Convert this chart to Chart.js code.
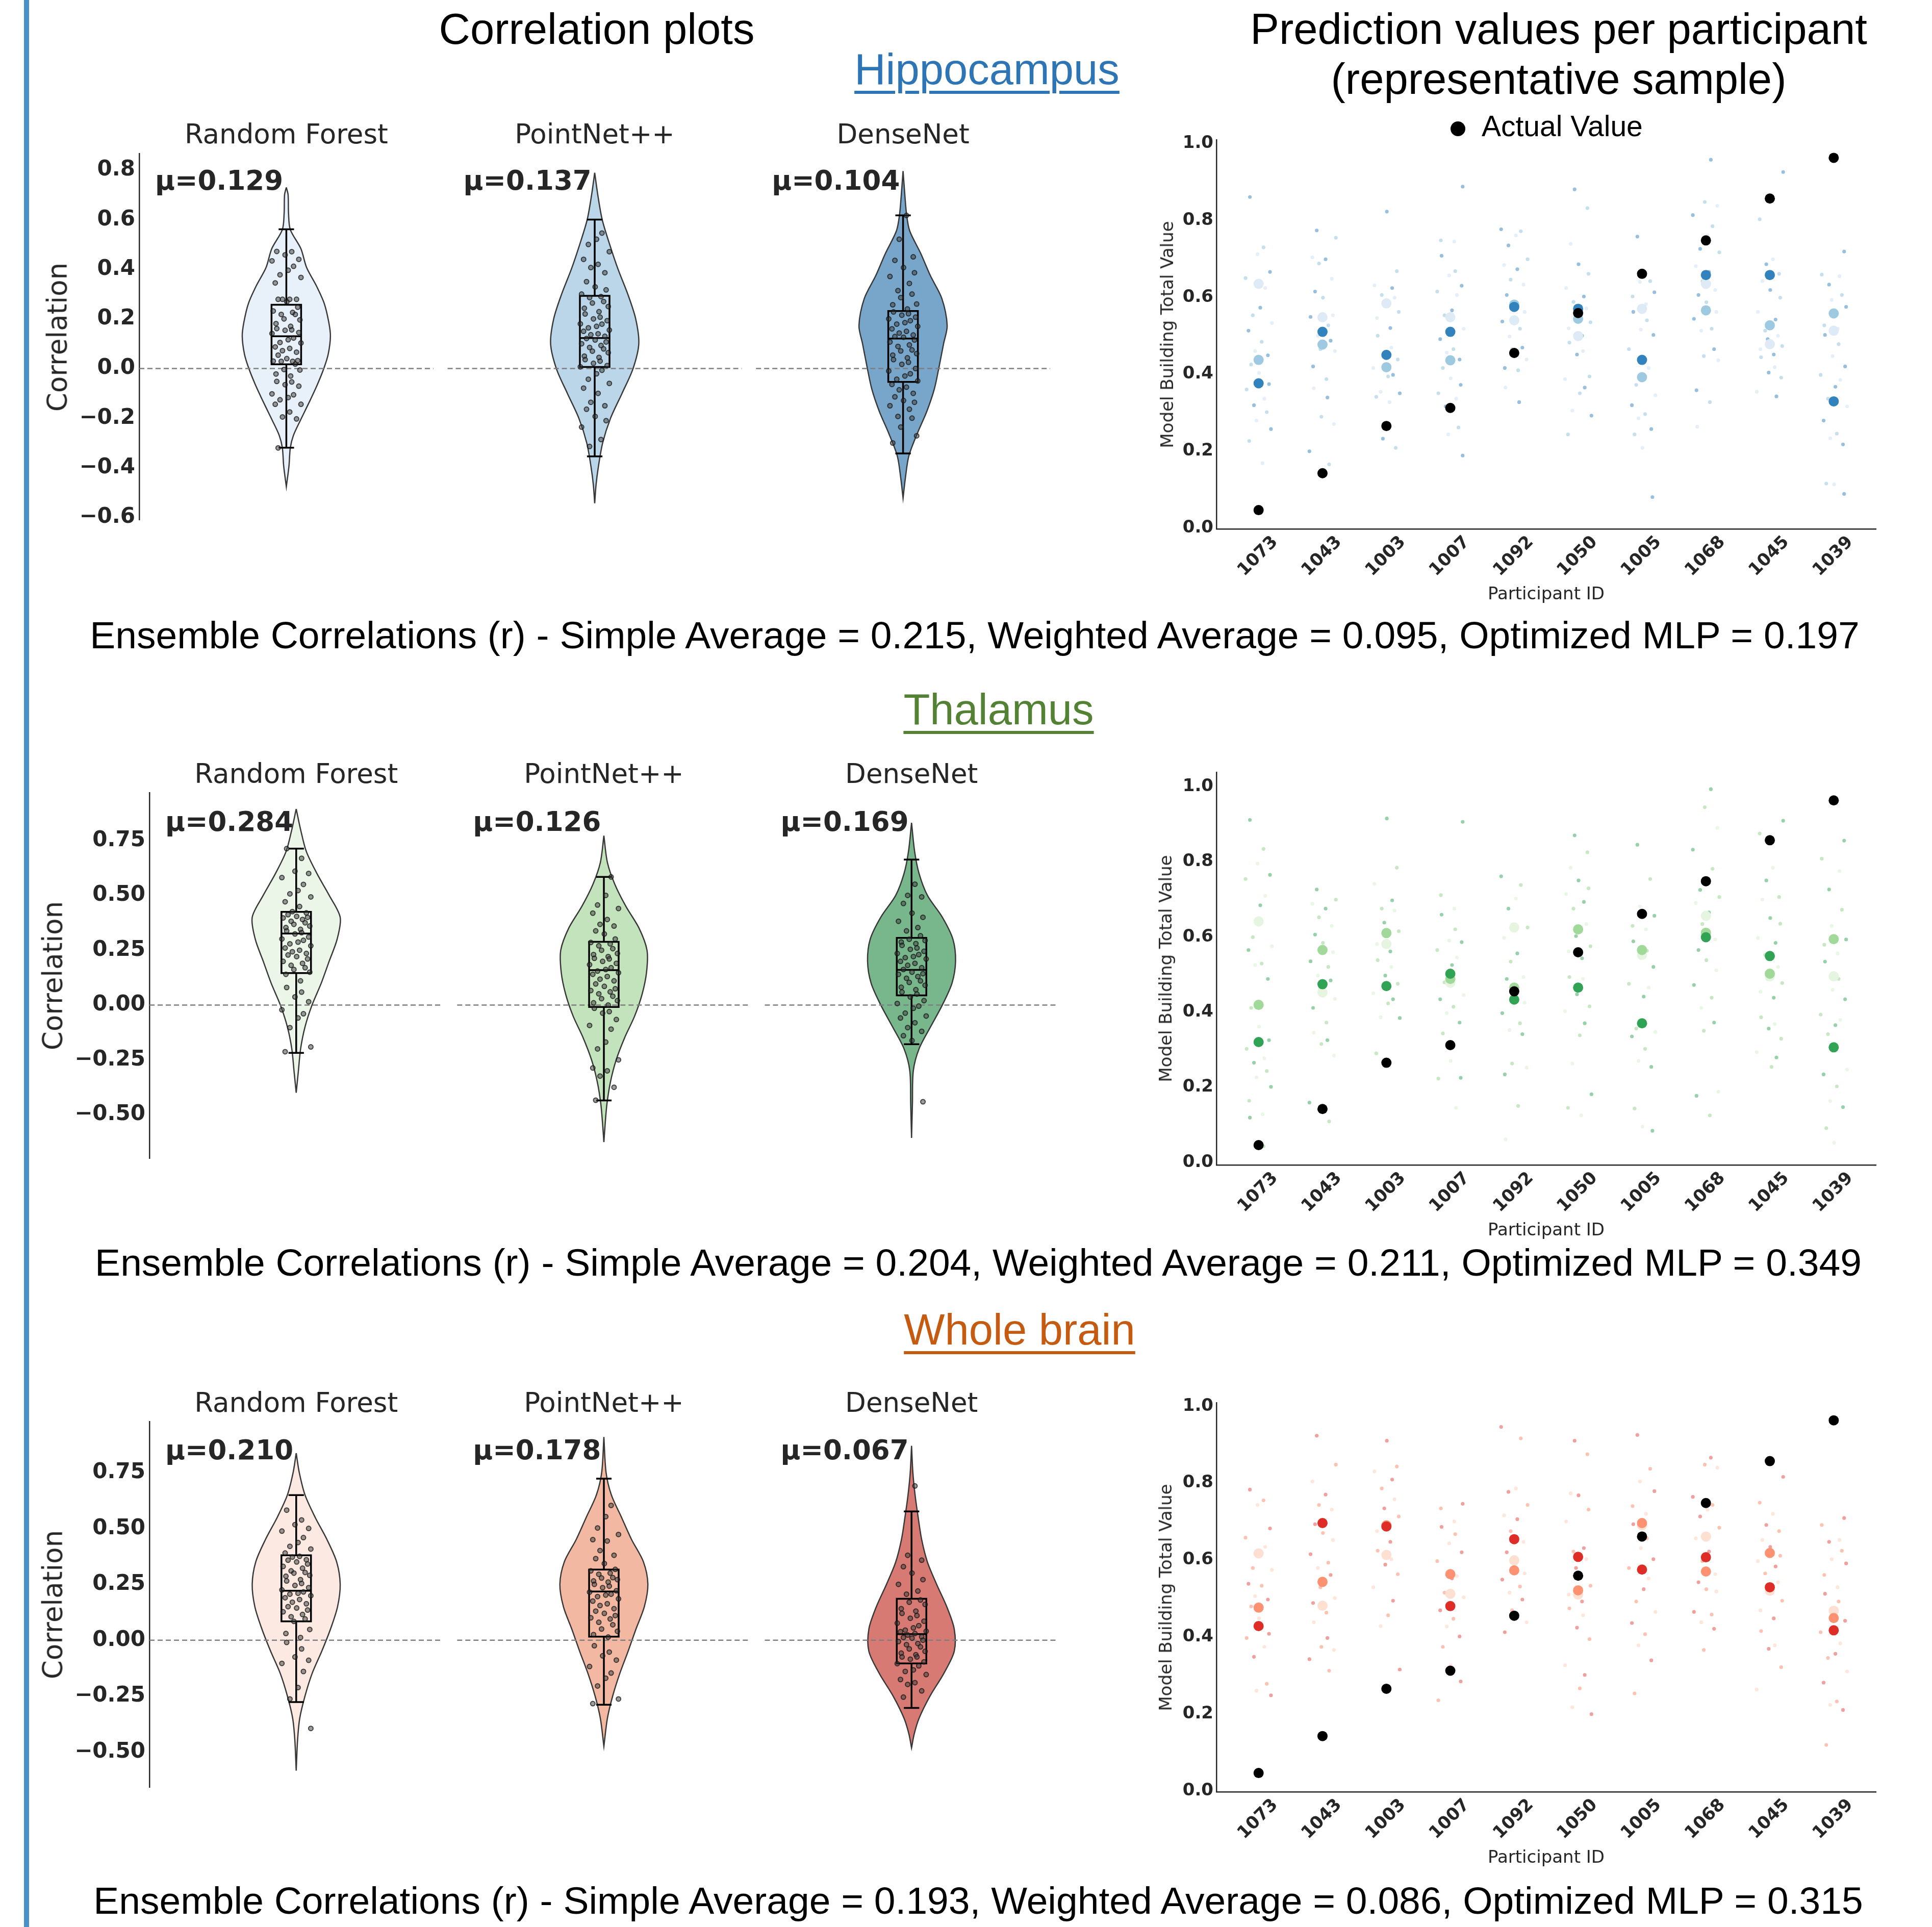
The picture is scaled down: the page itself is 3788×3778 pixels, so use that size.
<!DOCTYPE html>
<html>
<head>
<meta charset="utf-8">
<script src="https://cdn.jsdelivr.net/npm/chart.js@4.4.1/dist/chart.umd.min.js"></script>
<style>
  body { margin: 0; width: 3788px; height: 3778px; background: #fff; position: relative; overflow: hidden; }
  canvas { position: absolute; }
  .t { position: absolute; white-space: nowrap; line-height: 1; }
  #bar { position: absolute; left: 47px; top: 0; width: 10px; height: 3778px; background: #4a90c9; }
</style>
</head>
<body>
<div id="bar"></div>
<script>
// ---------- data ----------
const models = ['Random Forest', 'PointNet++', 'DenseNet'];
const participants = ['1073', '1043', '1003', '1007', '1092', '1050', '1005', '1068', '1045', '1039'];
const actualValue = [0.046, 0.142, 0.265, 0.312, 0.455, 0.559, 0.661, 0.748, 0.857, 0.963];

// mean correlation per model
const hipMeans = [0.129, 0.137, 0.104];
const thalMeans = [0.284, 0.126, 0.169];
const wbMeans = [0.210, 0.178, 0.067];

// box plot stats: [low whisker, q1, median, q3, high whisker]
const hipBoxes = [[-0.319, 0.017, 0.130, 0.257, 0.561], [-0.354, 0.006, 0.123, 0.293, 0.600], [-0.342, -0.054, 0.121, 0.232, 0.617]];
const thalBoxes = [[-0.218, 0.146, 0.326, 0.425, 0.713], [-0.435, -0.009, 0.159, 0.288, 0.584], [-0.179, 0.044, 0.160, 0.306, 0.663]];
const wbBoxes = [[-0.277, 0.084, 0.221, 0.380, 0.649], [-0.289, 0.016, 0.218, 0.316, 0.723], [-0.303, -0.104, 0.027, 0.185, 0.576]];

// violin density profiles: [correlation, relative density]
const hipViolinRF = [[0.73, 0], [0.70, 0.04], [0.625, 0.05], [0.56, 0.09], [0.483, 0.33], [0.407, 0.46], [0.334, 0.68], [0.262, 0.86], [0.189, 0.96], [0.131, 1.0], [0.058, 0.95], [0.0, 0.85], [-0.066, 0.7], [-0.139, 0.51], [-0.212, 0.31], [-0.27, 0.16], [-0.32, 0.09], [-0.393, 0.06], [-0.476, 0]];
const hipViolinPN = [[0.789, 0], [0.70, 0.07], [0.60, 0.17], [0.50, 0.34], [0.40, 0.53], [0.30, 0.75], [0.20, 0.93], [0.10, 1.0], [0.0, 0.87], [-0.10, 0.62], [-0.20, 0.36], [-0.30, 0.18], [-0.40, 0.08], [-0.47, 0.03], [-0.543, 0]];
const hipViolinDN = [[0.796, 0], [0.70, 0.04], [0.62, 0.08], [0.555, 0.15], [0.464, 0.40], [0.374, 0.62], [0.282, 0.88], [0.173, 1.0], [0.101, 0.92], [0.01, 0.82], [-0.082, 0.71], [-0.172, 0.54], [-0.263, 0.32], [-0.353, 0.13], [-0.445, 0.05], [-0.522, 0]];
const thalViolinRF = [[0.894, 0], [0.80, 0.10], [0.70, 0.23], [0.60, 0.47], [0.50, 0.75], [0.40, 1.0], [0.30, 0.93], [0.20, 0.75], [0.10, 0.57], [0.0, 0.36], [-0.10, 0.2], [-0.20, 0.1], [-0.30, 0.05], [-0.40, 0]];
const thalViolinPN = [[0.772, 0], [0.65, 0.08], [0.55, 0.25], [0.45, 0.5], [0.35, 0.8], [0.25, 0.98], [0.15, 0.97], [0.05, 0.87], [-0.05, 0.7], [-0.15, 0.47], [-0.25, 0.28], [-0.35, 0.15], [-0.45, 0.07], [-0.54, 0.03], [-0.625, 0]];
const thalViolinDN = [[0.831, 0], [0.70, 0.07], [0.60, 0.17], [0.50, 0.36], [0.40, 0.7], [0.30, 0.94], [0.20, 1.0], [0.10, 0.92], [0.0, 0.7], [-0.10, 0.43], [-0.20, 0.17], [-0.30, 0.04], [-0.45, 0.02], [-0.606, 0]];
const wbViolinRF = [[0.837, 0], [0.75, 0.07], [0.65, 0.2], [0.55, 0.43], [0.45, 0.7], [0.35, 0.92], [0.25, 1.0], [0.15, 0.94], [0.05, 0.78], [-0.05, 0.58], [-0.15, 0.36], [-0.25, 0.2], [-0.35, 0.08], [-0.45, 0.03], [-0.584, 0]];
const wbViolinPN = [[0.909, 0], [0.75, 0.05], [0.65, 0.17], [0.55, 0.4], [0.45, 0.63], [0.35, 0.9], [0.25, 1.0], [0.15, 0.92], [0.05, 0.73], [-0.05, 0.55], [-0.15, 0.36], [-0.25, 0.2], [-0.35, 0.08], [-0.475, 0]];
const wbViolinDN = [[0.870, 0], [0.75, 0.03], [0.65, 0.08], [0.55, 0.15], [0.45, 0.23], [0.35, 0.36], [0.25, 0.57], [0.15, 0.8], [0.05, 0.97], [-0.05, 0.97], [-0.15, 0.73], [-0.25, 0.42], [-0.35, 0.17], [-0.42, 0.06], [-0.482, 0]];

// per-participant correlations (strip points)
const hipPointsRF = [0.472, 0.471, 0.458, 0.440, 0.434, 0.412, 0.396, 0.378, 0.367, 0.345, 0.279, 0.279, 0.279, 0.279, 0.269, 0.247, 0.232, 0.226, 0.218, 0.218, 0.2, 0.196, 0.181, 0.170, 0.161, 0.156, 0.154, 0.145, 0.141, 0.123, 0.116, 0.105, 0.103, 0.087, 0.081, 0.072, 0.066, 0.054, 0.040, 0.032, 0.030, 0.029, 0.029, 0.018, -0.004, -0.006, -0.022, -0.03, -0.052, -0.054, -0.065, -0.071, -0.102, -0.106, -0.117, -0.126, -0.144, -0.144, -0.175, -0.195, -0.203, -0.32];
const hipPointsPN = [0.546, 0.521, 0.5, 0.471, 0.44, 0.42, 0.407, 0.386, 0.35, 0.329, 0.317, 0.3, 0.29, 0.286, 0.27, 0.264, 0.25, 0.243, 0.229, 0.22, 0.207, 0.2, 0.193, 0.18, 0.179, 0.17, 0.164, 0.155, 0.15, 0.14, 0.136, 0.13, 0.121, 0.115, 0.107, 0.1, 0.093, 0.085, 0.079, 0.07, 0.064, 0.05, 0.045, 0.036, 0.03, 0.021, 0.012, 0.007, -0.007, -0.021, -0.043, -0.06, -0.079, -0.1, -0.136, -0.15, -0.164, -0.193, -0.21, -0.236, -0.286, -0.314];
const hipPointsDN = [0.617, 0.521, 0.45, 0.436, 0.407, 0.386, 0.371, 0.343, 0.314, 0.3, 0.286, 0.26, 0.257, 0.24, 0.228, 0.221, 0.215, 0.207, 0.2, 0.193, 0.185, 0.179, 0.17, 0.16, 0.15, 0.143, 0.135, 0.129, 0.126, 0.115, 0.107, 0.095, 0.089, 0.075, 0.071, 0.06, 0.054, 0.043, 0.036, 0.025, 0.017, 0.0, -0.01, -0.021, -0.03, -0.043, -0.05, -0.064, -0.075, -0.086, -0.1, -0.114, -0.129, -0.136, -0.15, -0.164, -0.193, -0.2, -0.236, -0.271, -0.3];
const thalPointsRF = [0.713, 0.669, 0.61, 0.6, 0.581, 0.55, 0.522, 0.507, 0.493, 0.471, 0.449, 0.426, 0.42, 0.412, 0.404, 0.4, 0.397, 0.39, 0.382, 0.375, 0.368, 0.36, 0.353, 0.345, 0.338, 0.33, 0.324, 0.31, 0.301, 0.295, 0.287, 0.279, 0.27, 0.26, 0.25, 0.243, 0.235, 0.228, 0.221, 0.21, 0.199, 0.19, 0.181, 0.17, 0.162, 0.15, 0.14, 0.11, 0.08, 0.059, 0.037, 0.015, -0.022, -0.04, -0.059, -0.103, -0.191, -0.213];
const thalPointsPN = [0.584, 0.5, 0.456, 0.44, 0.419, 0.39, 0.368, 0.36, 0.338, 0.324, 0.301, 0.285, 0.279, 0.27, 0.257, 0.25, 0.235, 0.23, 0.221, 0.213, 0.21, 0.199, 0.19, 0.184, 0.17, 0.162, 0.155, 0.147, 0.14, 0.13, 0.118, 0.11, 0.096, 0.085, 0.074, 0.066, 0.06, 0.051, 0.04, 0.029, 0.02, 0.01, 0.0, -0.015, -0.03, -0.037, -0.066, -0.093, -0.11, -0.169, -0.2, -0.25, -0.287, -0.3, -0.324, -0.375, -0.434];
const thalPointsDN = [0.551, 0.5, 0.493, 0.463, 0.419, 0.4, 0.382, 0.353, 0.338, 0.316, 0.3, 0.294, 0.287, 0.28, 0.272, 0.26, 0.254, 0.245, 0.235, 0.23, 0.221, 0.216, 0.21, 0.199, 0.19, 0.181, 0.17, 0.162, 0.15, 0.143, 0.14, 0.13, 0.122, 0.11, 0.103, 0.09, 0.081, 0.07, 0.059, 0.05, 0.037, 0.02, 0.007, -0.005, -0.015, -0.037, -0.05, -0.059, -0.081, -0.103, -0.12, -0.14, -0.162, -0.441];
const wbPointsRF = [0.582, 0.538, 0.517, 0.5, 0.488, 0.459, 0.437, 0.42, 0.408, 0.39, 0.375, 0.372, 0.36, 0.358, 0.35, 0.341, 0.33, 0.322, 0.31, 0.303, 0.3, 0.29, 0.286, 0.271, 0.265, 0.254, 0.245, 0.235, 0.225, 0.216, 0.21, 0.206, 0.199, 0.19, 0.182, 0.17, 0.163, 0.15, 0.144, 0.135, 0.127, 0.115, 0.105, 0.095, 0.084, 0.048, 0.03, 0.012, -0.01, -0.039, -0.075, -0.09, -0.104, -0.14, -0.212, -0.263, -0.395];
const wbPointsPN = [0.603, 0.553, 0.502, 0.473, 0.45, 0.444, 0.401, 0.38, 0.365, 0.343, 0.317, 0.31, 0.3, 0.295, 0.28, 0.278, 0.271, 0.265, 0.26, 0.25, 0.242, 0.235, 0.221, 0.215, 0.206, 0.202, 0.195, 0.185, 0.175, 0.163, 0.155, 0.141, 0.13, 0.12, 0.11, 0.1, 0.095, 0.08, 0.069, 0.05, 0.04, 0.025, 0.014, -0.025, -0.053, -0.07, -0.089, -0.118, -0.147, -0.17, -0.205, -0.263, -0.284];
const wbPointsDN = [0.69, 0.38, 0.358, 0.329, 0.3, 0.271, 0.25, 0.22, 0.206, 0.18, 0.17, 0.16, 0.141, 0.13, 0.12, 0.11, 0.098, 0.085, 0.076, 0.065, 0.055, 0.045, 0.04, 0.038, 0.03, 0.023, 0.015, 0.012, 0.009, 0.0, -0.006, -0.015, -0.02, -0.03, -0.039, -0.05, -0.058, -0.065, -0.075, -0.075, -0.085, -0.097, -0.105, -0.115, -0.133, -0.14, -0.154, -0.176, -0.19, -0.198, -0.227, -0.255];

// mean predicted value per participant, per model
const hipPredRF = [0.635, 0.548, 0.584, 0.548, 0.540, 0.499, 0.570, 0.635, 0.478, 0.513];
const hipPredPN = [0.437, 0.477, 0.418, 0.436, 0.581, 0.544, 0.392, 0.566, 0.527, 0.558];
const hipPredDN = [0.376, 0.510, 0.450, 0.510, 0.575, 0.570, 0.437, 0.658, 0.658, 0.329];
const thalPredRF = [0.641, 0.452, 0.581, 0.478, 0.625, 0.620, 0.552, 0.656, 0.495, 0.495];
const thalPredPN = [0.419, 0.565, 0.610, 0.488, 0.465, 0.620, 0.565, 0.611, 0.502, 0.594];
const thalPredDN = [0.320, 0.474, 0.469, 0.502, 0.433, 0.465, 0.370, 0.599, 0.549, 0.306];
const wbPredRF = [0.617, 0.481, 0.613, 0.512, 0.599, 0.510, 0.690, 0.661, 0.520, 0.468];
const wbPredPN = [0.476, 0.543, 0.690, 0.563, 0.573, 0.521, 0.696, 0.570, 0.618, 0.449];
const wbPredDN = [0.428, 0.696, 0.687, 0.480, 0.654, 0.608, 0.575, 0.607, 0.529, 0.417];

// individual predictions per participant (small dots)
const hipSingle = [
  [0.861, 0.730, 0.712, 0.666, 0.650, 0.624, 0.573, 0.553, 0.533, 0.513, 0.484, 0.460, 0.449, 0.425, 0.403, 0.374, 0.360, 0.336, 0.319, 0.301, 0.279, 0.257, 0.226, 0.168],
  [0.774, 0.755, 0.704, 0.699, 0.688, 0.648, 0.615, 0.599, 0.553, 0.549, 0.527, 0.500, 0.487, 0.465, 0.460, 0.420, 0.387, 0.363, 0.339, 0.289, 0.270, 0.199, 0.165],
  [0.823, 0.668, 0.631, 0.624, 0.606, 0.599, 0.584, 0.562, 0.546, 0.520, 0.500, 0.469, 0.449, 0.438, 0.416, 0.398, 0.394, 0.354, 0.350, 0.341, 0.327, 0.232, 0.208],
  [0.888, 0.748, 0.745, 0.708, 0.668, 0.657, 0.630, 0.615, 0.606, 0.566, 0.553, 0.518, 0.491, 0.465, 0.456, 0.438, 0.416, 0.389, 0.372, 0.350, 0.336, 0.316, 0.261, 0.243, 0.188],
  [0.777, 0.772, 0.761, 0.735, 0.699, 0.684, 0.673, 0.646, 0.633, 0.606, 0.588, 0.562, 0.537, 0.518, 0.498, 0.469, 0.465, 0.438, 0.416, 0.410, 0.365, 0.327],
  [0.881, 0.832, 0.739, 0.686, 0.661, 0.624, 0.602, 0.588, 0.571, 0.553, 0.535, 0.519, 0.500, 0.482, 0.460, 0.451, 0.394, 0.387, 0.365, 0.350, 0.305, 0.292, 0.243],
  [0.758, 0.642, 0.640, 0.613, 0.602, 0.582, 0.562, 0.540, 0.516, 0.502, 0.465, 0.416, 0.389, 0.372, 0.345, 0.319, 0.296, 0.285, 0.257, 0.243, 0.208, 0.080],
  [0.958, 0.848, 0.838, 0.814, 0.785, 0.761, 0.726, 0.717, 0.681, 0.666, 0.642, 0.619, 0.606, 0.587, 0.562, 0.544, 0.518, 0.513, 0.465, 0.447, 0.436, 0.358, 0.327, 0.263],
  [0.926, 0.803, 0.699, 0.686, 0.661, 0.642, 0.619, 0.599, 0.562, 0.542, 0.513, 0.500, 0.491, 0.473, 0.465, 0.451, 0.444, 0.418, 0.404, 0.391, 0.354, 0.342],
  [0.719, 0.659, 0.655, 0.633, 0.606, 0.593, 0.575, 0.527, 0.518, 0.502, 0.478, 0.447, 0.420, 0.398, 0.385, 0.367, 0.336, 0.316, 0.279, 0.245, 0.233, 0.217, 0.115, 0.113, 0.088]
];
const thalSingle = [
  [0.911, 0.834, 0.795, 0.765, 0.754, 0.709, 0.684, 0.599, 0.575, 0.565, 0.529, 0.525, 0.488, 0.411, 0.361, 0.325, 0.302, 0.277, 0.265, 0.243, 0.226, 0.201, 0.164, 0.128, 0.119, 0.043],
  [0.726, 0.699, 0.688, 0.675, 0.652, 0.629, 0.606, 0.584, 0.559, 0.535, 0.520, 0.497, 0.484, 0.461, 0.435, 0.411, 0.372, 0.345, 0.325, 0.315, 0.284, 0.159, 0.109],
  [0.915, 0.784, 0.741, 0.697, 0.675, 0.670, 0.638, 0.615, 0.581, 0.561, 0.538, 0.520, 0.497, 0.475, 0.450, 0.434, 0.423, 0.386, 0.384, 0.290],
  [0.906, 0.711, 0.675, 0.659, 0.620, 0.590, 0.586, 0.565, 0.545, 0.525, 0.479, 0.445, 0.434, 0.414, 0.397, 0.372, 0.343, 0.270, 0.225, 0.223, 0.145],
  [0.761, 0.738, 0.702, 0.675, 0.625, 0.597, 0.556, 0.534, 0.493, 0.488, 0.452, 0.425, 0.397, 0.370, 0.352, 0.341, 0.263, 0.252, 0.234, 0.150, 0.061],
  [0.870, 0.825, 0.784, 0.750, 0.729, 0.714, 0.693, 0.675, 0.634, 0.602, 0.575, 0.561, 0.543, 0.493, 0.488, 0.447, 0.415, 0.402, 0.370, 0.338, 0.263, 0.181, 0.145, 0.125],
  [0.845, 0.754, 0.681, 0.656, 0.629, 0.620, 0.588, 0.563, 0.543, 0.520, 0.475, 0.465, 0.441, 0.356, 0.347, 0.335, 0.302, 0.270, 0.254, 0.143, 0.095, 0.084],
  [0.993, 0.945, 0.890, 0.832, 0.781, 0.743, 0.725, 0.706, 0.690, 0.665, 0.634, 0.593, 0.565, 0.538, 0.511, 0.472, 0.438, 0.411, 0.372, 0.350, 0.188, 0.177, 0.125],
  [0.909, 0.875, 0.784, 0.750, 0.706, 0.699, 0.650, 0.635, 0.597, 0.584, 0.552, 0.520, 0.488, 0.477, 0.454, 0.438, 0.386, 0.368, 0.356, 0.329, 0.293, 0.279, 0.254],
  [0.856, 0.808, 0.775, 0.726, 0.672, 0.629, 0.593, 0.579, 0.556, 0.534, 0.488, 0.459, 0.434, 0.393, 0.379, 0.365, 0.341, 0.247, 0.234, 0.202, 0.163, 0.147, 0.091, 0.052]
];
const wbSingle = [
  [0.783, 0.755, 0.743, 0.682, 0.658, 0.634, 0.622, 0.579, 0.574, 0.538, 0.533, 0.506, 0.497, 0.479, 0.448, 0.408, 0.397, 0.374, 0.348, 0.278, 0.260, 0.248],
  [0.923, 0.848, 0.804, 0.770, 0.743, 0.731, 0.693, 0.670, 0.652, 0.615, 0.593, 0.579, 0.561, 0.529, 0.501, 0.488, 0.463, 0.438, 0.397, 0.374, 0.366, 0.342, 0.312],
  [0.910, 0.843, 0.830, 0.809, 0.786, 0.758, 0.734, 0.713, 0.675, 0.647, 0.624, 0.602, 0.588, 0.563, 0.529, 0.494, 0.456, 0.428, 0.315],
  [0.746, 0.734, 0.700, 0.686, 0.667, 0.643, 0.620, 0.597, 0.558, 0.552, 0.515, 0.503, 0.469, 0.447, 0.427, 0.401, 0.374, 0.326, 0.284, 0.235],
  [0.946, 0.916, 0.786, 0.777, 0.743, 0.716, 0.706, 0.675, 0.647, 0.620, 0.594, 0.565, 0.549, 0.531, 0.515, 0.497, 0.469, 0.438, 0.412],
  [0.910, 0.875, 0.773, 0.768, 0.731, 0.700, 0.631, 0.622, 0.602, 0.579, 0.533, 0.510, 0.492, 0.474, 0.456, 0.424, 0.394, 0.326, 0.301, 0.266, 0.217, 0.199],
  [0.925, 0.837, 0.804, 0.779, 0.740, 0.720, 0.693, 0.656, 0.631, 0.602, 0.579, 0.552, 0.524, 0.492, 0.465, 0.436, 0.407, 0.378, 0.339, 0.253],
  [0.866, 0.848, 0.840, 0.764, 0.743, 0.731, 0.713, 0.684, 0.656, 0.622, 0.597, 0.563, 0.542, 0.524, 0.518, 0.465, 0.458, 0.438, 0.421, 0.366],
  [0.816, 0.749, 0.720, 0.691, 0.675, 0.652, 0.634, 0.611, 0.597, 0.583, 0.565, 0.542, 0.515, 0.494, 0.469, 0.448, 0.415, 0.378, 0.369, 0.321, 0.263],
  [0.709, 0.691, 0.652, 0.647, 0.624, 0.602, 0.591, 0.561, 0.529, 0.512, 0.492, 0.474, 0.442, 0.412, 0.383, 0.356, 0.345, 0.310, 0.281, 0.232, 0.223, 0.210, 0.119]
];

// fixed horizontal spread pattern for strip / swarm dots
const jitterPattern = [-0.62, 0.35, -0.08, 0.81, -0.93, 0.47, 0.12, -0.41, 0.95, -0.72, 0.22, -0.25, 0.66, -0.53, 0.03, 0.74, -0.85, 0.41, -0.33, 0.58, -0.15, 0.88, -0.67, 0.28];

// ---------- styling ----------
const violinHalf = 0.143, panelHalf = 0.477, boxHalf = 0.048, capHalf = 0.025;
const stripJitter = 0.05, dotJitter = 0.22, labelShift = 0.26;
const plotLeft = 2385, plotRight = 3678;

Chart.defaults.font.family = 'DejaVu Sans';
Chart.defaults.color = '#262626';
Chart.defaults.animation = false;
Chart.defaults.events = [];
Chart.defaults.plugins.legend.display = false;
Chart.defaults.plugins.tooltip.enabled = false;

function makeCanvas(left, top, w, h) {
  const c = document.createElement('canvas');
  c.width = w; c.height = h;
  c.style.left = left + 'px'; c.style.top = top + 'px';
  c.style.width = w + 'px'; c.style.height = h + 'px';
  document.body.appendChild(c);
  return c;
}

function addText(txt, x, baseline, size, o = {}) {
  const d = document.createElement('div');
  d.className = 't';
  d.textContent = txt;
  d.style.fontSize = size + 'px';
  d.style.fontFamily = o.family || 'Liberation Sans';
  d.style.fontWeight = o.bold ? 'bold' : 'normal';
  d.style.color = o.color || '#000';
  d.style.left = x + 'px';
  d.style.top = (baseline - 0.846 * size) + 'px';
  if (!o.left) d.style.transform = 'translateX(-50%)';
  if (o.underline) {
    d.style.textDecoration = 'underline';
    d.style.textDecorationThickness = '6px';
    d.style.textUnderlineOffset = '13px';
  }
  document.body.appendChild(d);
  return d;
}

function addVertical(txt, cx, cy, size) {
  const d = document.createElement('div');
  d.className = 't';
  d.textContent = txt;
  d.style.fontSize = size + 'px';
  d.style.fontFamily = 'DejaVu Sans';
  d.style.color = '#262626';
  d.style.left = cx + 'px';
  d.style.top = cy + 'px';
  d.style.transform = 'translate(-50%,-50%) rotate(-90deg)';
  document.body.appendChild(d);
}

const tickFmt = dec => v => (Math.abs(v) < 1e-9 ? 0 : v).toFixed(dec).replace('-', '\u2212');

function violinRow(r) {
  const yW = 200, padV = 30, padR = 10;
  const left = r.axisX - yW, top = r.axisTop - padV;
  const cv = makeCanvas(left, top, r.panelRight + padR - left, r.axisBottom - r.axisTop + 2 * padV);
  const ds = [];
  models.forEach((m, k) => {
    const prof = r.profiles[k];
    const outline = prof.map(p => ({x: k + p[1] * violinHalf, y: p[0]}))
      .concat(prof.slice().reverse().map(p => ({x: k - p[1] * violinHalf, y: p[0]})));
    ds.push({data: outline, fill: 'shape', backgroundColor: r.fills[k], borderColor: '#383838',
      borderWidth: 2.5, pointRadius: 0, tension: 0.3, order: 6});
    ds.push({data: [{x: k - panelHalf, y: 0}, {x: k + panelHalf, y: 0}], borderColor: '#7f7f7f',
      borderWidth: 2.5, borderDash: [10, 6], pointRadius: 0, order: 5});
    const [lo, q1, med, q3, hi] = r.boxes[k];
    const black = {borderColor: '#000', borderWidth: 3.5, pointRadius: 0, fill: false};
    ds.push({...black, data: [{x: k, y: lo}, {x: k, y: q1}, {x: k, y: null}, {x: k, y: q3}, {x: k, y: hi}], order: 4});
    ds.push({...black, data: [{x: k - boxHalf, y: q1}, {x: k + boxHalf, y: q1}, {x: k + boxHalf, y: q3},
      {x: k - boxHalf, y: q3}, {x: k - boxHalf, y: q1}], borderJoinStyle: 'miter', borderCapStyle: 'square', order: 3});
    ds.push({...black, data: [{x: k - boxHalf, y: med}, {x: k + boxHalf, y: med}], order: 3});
    ds.push({...black, data: [{x: k - capHalf, y: lo}, {x: k + capHalf, y: lo}, {x: k, y: null},
      {x: k - capHalf, y: hi}, {x: k + capHalf, y: hi}], order: 3});
    ds.push({data: r.points[k].map((v, i) => ({x: k + jitterPattern[(i + 5 * k) % jitterPattern.length] * stripJitter, y: v})),
      showLine: false, pointRadius: 4.5, backgroundColor: 'rgba(60,60,60,0.5)',
      borderColor: 'rgba(20,20,20,0.75)', borderWidth: 2, order: 1});
  });
  const chart = new Chart(cv, {
    type: 'line',
    data: {datasets: ds},
    options: {
      responsive: false,
      layout: {padding: {top: padV, bottom: padV, right: padR, left: 0}},
      scales: {
        x: {type: 'linear', min: -panelHalf, max: 2 + panelHalf, display: false},
        y: {
          type: 'linear', min: r.yMin, max: r.yMax,
          afterFit: s => { s.width = yW; },
          grid: {display: false, drawTicks: false},
          border: {display: true, color: '#262626', width: 2.5},
          ticks: {stepSize: r.step, includeBounds: false, padding: 8, color: '#262626',
            font: {size: 42, weight: 'bold'}, callback: tickFmt(r.dec)}
        }
      }
    }
  });
  models.forEach((m, k) => {
    const cx = left + chart.scales.x.getPixelForValue(k);
    addText(m, cx, r.titleBase, 53, {family: 'DejaVu Sans', color: '#262626'});
    const lx = left + chart.scales.x.getPixelForValue(k - panelHalf) + 31;
    addText('\u03bc=' + r.means[k].toFixed(3), lx, r.muBase, 53, {family: 'DejaVu Sans', bold: true, color: '#262626', left: true});
  });
  addVertical('Correlation', r.labelX, (r.axisTop + r.axisBottom) / 2, 53);
}

function scatterRow(r) {
  const yW = 130, xH = 170, padT = 30, padR = 20;
  const left = plotLeft - yW, top = r.axisTop - padT;
  const cv = makeCanvas(left, top, plotRight + padR - left, r.axisBottom + xH - top);
  const shades = [[], [], []];
  r.single.forEach((vals, i) => vals.forEach((v, j) => {
    shades[j % 3].push({x: i + jitterPattern[(j + 7 * i) % jitterPattern.length] * dotJitter, y: v});
  }));
  const big = (vals, color, order) => ({data: vals.map((v, i) => ({x: i, y: v})), pointRadius: 10,
    backgroundColor: color, borderWidth: 0, order});
  const ds = [
    {data: shades[0], pointRadius: 3.6, backgroundColor: r.smallColors[0], borderWidth: 0, order: 7},
    {data: shades[1], pointRadius: 3.6, backgroundColor: r.smallColors[1], borderWidth: 0, order: 6},
    {data: shades[2], pointRadius: 3.6, backgroundColor: r.smallColors[2], borderWidth: 0, order: 5},
    big(r.predRF, r.colors[2], 4),
    big(r.predPN, r.colors[1], 3),
    big(r.predDN, r.colors[0], 2),
    big(actualValue, '#000', 1)
  ];
  new Chart(cv, {
    type: 'scatter',
    data: {datasets: ds},
    options: {
      responsive: false,
      layout: {padding: {top: padT, right: padR, bottom: 0, left: 0}},
      scales: {
        x: {
          type: 'linear', min: -0.66, max: participants.length - 1 + 0.66,
          afterFit: s => { s.height = xH; },
          afterBuildTicks: s => { s.ticks = participants.map((p, i) => ({value: i + labelShift})); },
          grid: {display: false, drawTicks: false},
          border: {display: true, color: '#262626', width: 2.5},
          ticks: {autoSkip: false, minRotation: 45, maxRotation: 45, padding: 6, color: '#262626',
            font: {size: 34, weight: 'bold'}, callback: (v, i) => participants[i]}
        },
        y: {
          type: 'linear', min: r.yMin, max: r.yMax,
          afterFit: s => { s.width = yW; },
          grid: {display: false, drawTicks: false},
          border: {display: true, color: '#262626', width: 2.5},
          ticks: {stepSize: 0.2, includeBounds: false, padding: 6, color: '#262626',
            font: {size: 34, weight: 'bold'}, callback: tickFmt(1)}
        }
      }
    }
  });
  addText('Participant ID', (plotLeft + plotRight) / 2, r.xTitleBase, 34, {family: 'DejaVu Sans', color: '#262626'});
  addVertical('Model Building Total Value', r.labelX, (r.axisTop + r.axisBottom) / 2, 34);
}

// ---------- rows ----------
violinRow({axisX: 273, panelRight: 2059, axisTop: 298, axisBottom: 1023, yMin: -0.611, yMax: 0.866, step: 0.2, dec: 1,
  profiles: [hipViolinRF, hipViolinPN, hipViolinDN], boxes: hipBoxes, points: [hipPointsRF, hipPointsPN, hipPointsDN],
  fills: ['#e8f1f9', '#bad6e8', '#78a6ca'], means: hipMeans, titleBase: 281, muBase: 372, labelX: 112});
violinRow({axisX: 293, panelRight: 2075, axisTop: 1551, axisBottom: 2275, yMin: -0.701, yMax: 0.968, step: 0.25, dec: 2,
  profiles: [thalViolinRF, thalViolinPN, thalViolinDN], boxes: thalBoxes, points: [thalPointsRF, thalPointsPN, thalPointsDN],
  fills: ['#ebf5e8', '#c3e3bc', '#78b78c'], means: thalMeans, titleBase: 1535, muBase: 1629, labelX: 103});
violinRow({axisX: 293, panelRight: 2075, axisTop: 2784, axisBottom: 3508, yMin: -0.660, yMax: 0.978, step: 0.25, dec: 2,
  profiles: [wbViolinRF, wbViolinPN, wbViolinDN], boxes: wbBoxes, points: [wbPointsRF, wbPointsPN, wbPointsDN],
  fills: ['#fce9e1', '#f2b8a2', '#d77a73'], means: wbMeans, titleBase: 2768, muBase: 2861, labelX: 103});

scatterRow({axisTop: 274, axisBottom: 1037, yMin: -0.003, yMax: 1.01, single: hipSingle,
  predRF: hipPredRF, predPN: hipPredPN, predDN: hipPredDN,
  colors: ['#3182bd', '#9ecae1', '#deebf7'],
  smallColors: ['rgba(49,130,189,0.5)', 'rgba(158,202,225,0.6)', 'rgba(222,235,247,0.8)'],
  xTitleBase: 1175, labelX: 2288});
scatterRow({axisTop: 1514, axisBottom: 2284, yMin: -0.007, yMax: 1.038, single: thalSingle,
  predRF: thalPredRF, predPN: thalPredPN, predDN: thalPredDN,
  colors: ['#31a354', '#a1d99b', '#e5f5e0'],
  smallColors: ['rgba(49,163,84,0.5)', 'rgba(161,217,155,0.6)', 'rgba(229,245,224,0.8)'],
  xTitleBase: 2422, labelX: 2285});
scatterRow({axisTop: 2750, axisBottom: 3513, yMin: -0.003, yMax: 1.009, single: wbSingle,
  predRF: wbPredRF, predPN: wbPredPN, predDN: wbPredDN,
  colors: ['#de2d26', '#fc9272', '#fee0d2'],
  smallColors: ['rgba(222,45,38,0.45)', 'rgba(252,146,114,0.55)', 'rgba(254,224,210,0.8)'],
  xTitleBase: 3652, labelX: 2285});

// ---------- headings ----------
addText('Correlation plots', 1170, 86, 85);
addText('Prediction values per participant', 3056, 86, 85);
addText('(representative sample)', 3056, 184, 85);
addText('Hippocampus', 1935, 165, 85, {color: '#2e75b6', underline: true});
addText('Thalamus', 1958, 1420, 85, {color: '#548235', underline: true});
addText('Whole brain', 1999, 2636, 85, {color: '#c55a11', underline: true});
addText('Ensemble Correlations (r) - Simple Average = 0.215, Weighted Average = 0.095, Optimized MLP = 0.197', 1911, 1271, 75);
addText('Ensemble Correlations (r) - Simple Average = 0.204, Weighted Average = 0.211, Optimized MLP = 0.349', 1918, 2501, 75);
addText('Ensemble Correlations (r) - Simple Average = 0.193, Weighted Average = 0.086, Optimized MLP = 0.315', 1918, 3752, 75);

// legend for the actual value dots
const dot = document.createElement('div');
dot.style.cssText = 'position:absolute;left:2844px;top:238px;width:29px;height:29px;border-radius:50%;background:#000';
document.body.appendChild(dot);
addText('Actual Value', 2905, 267, 57, {left: true});
</script>
</body>
</html>
